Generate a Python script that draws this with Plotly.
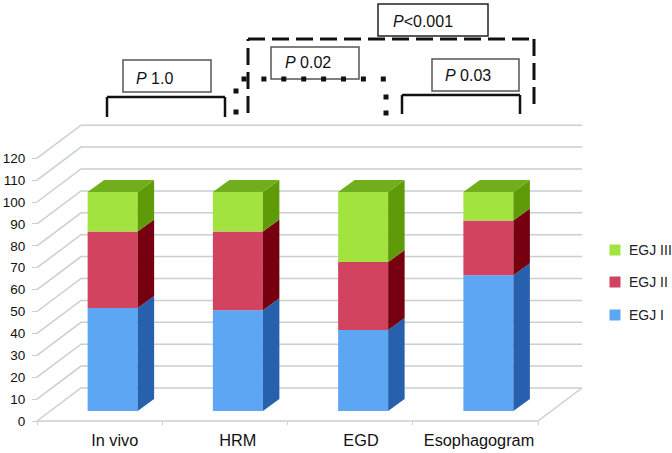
"""
EGJ grade share by method, drawn as an Excel style 3D stacked column chart
"""
import plotly.graph_objects as go

W, H = 672, 453

categories = ["In vivo", "HRM", "EGD", "Esophagogram"]
egj_1 = [47, 46, 37, 62]
egj_2 = [35, 36, 31, 25]
egj_3 = [18, 18, 32, 13]
y_ticks = list(range(0, 121, 10))

series = [
    ("EGJ I", egj_1, "#5CA6F4", "#2760AC", 315),
    ("EGJ II", egj_2, "#D2435F", "#76000F", 282),
    ("EGJ III", egj_3, "#A3E33F", "#5F9A08", 250),
]
top_color = "#71AE1E"
grid_color = "#C8D0D0"

# pixel layout of the fake 3D box
X0, CAT_W = 37, 125.25
Y0, UNIT = 421, 2.19
FONT = "Liberation Sans, Arial, sans-serif"


def val_x(px):
    return (px - X0) / CAT_W


def val_y(py):
    return (Y0 - py) / UNIT


wall_dx, wall_dy = 44 / CAT_W, 33 / UNIT
front_dx, front_dy = 13 / CAT_W, 10 / UNIT
side_dx, side_dy = 16.5 / CAT_W, 12 / UNIT
bar_w = 50 / CAT_W
label_px = [114.7, 237.7, 361, 479]


def line(x0, y0, x1, y1, color="#111111", width=2, dash=None):
    return dict(type="line", xref="paper", yref="paper", x0=x0 / W, x1=x1 / W,
                y0=1 - y0 / H, y1=1 - y1 / H, layer="above",
                line=dict(color=color, width=width, dash=dash))


def p_label(text, box, text_x, text_y, color):
    shapes.append(dict(type="rect", xref="paper", yref="paper", x0=box[0] / W, x1=box[2] / W,
                       y0=1 - box[1] / H, y1=1 - box[3] / H, layer="above",
                       line=dict(color=color, width=1.5)))
    annotations.append(dict(text=text, xref="paper", yref="paper", x=text_x / W, y=1 - text_y / H,
                            xanchor="left", yanchor="middle", showarrow=False,
                            font=dict(family=FONT, size=16, color="#111111")))


fig = go.Figure()
shapes = []
annotations = []

# walls: one line per tick, side wall then back wall
for v in y_ticks:
    shapes.append(dict(type="path", layer="below", line=dict(color=grid_color, width=1.5),
                       path=f"M 0 {v} L {wall_dx} {v + wall_dy} L {4 + wall_dx} {v + wall_dy}"))
shapes.append(dict(type="path", layer="below", line=dict(color=grid_color, width=1.5),
                   path=f"M 0 0 L 4 0 L {4 + wall_dx} {wall_dy}"))

# front faces, then the side and top faces from the same values
centers = [i + 0.5 + front_dx for i in range(len(categories))]
base = [front_dy] * len(categories)
for name, values, color, side_color, legend_y in series:
    fig.add_trace(go.Bar(x=centers, y=values, base=base, width=bar_w, name=name,
                         marker=dict(color=color, line=dict(width=0)), showlegend=False))
    for c, b, v in zip(centers, base, values):
        right = c + bar_w / 2
        fig.add_trace(go.Scatter(
            x=[right, right + side_dx, right + side_dx, right, right],
            y=[b, b + side_dy, b + v + side_dy, b + v, b],
            mode="lines", fill="toself", fillcolor=side_color, line=dict(width=0),
            hoverinfo="skip", showlegend=False))
    base = [b + v for b, v in zip(base, values)]

for c, t in zip(centers, base):
    left, right = c - bar_w / 2, c + bar_w / 2
    fig.add_trace(go.Scatter(
        x=[left, right, right + side_dx, left + side_dx, left],
        y=[t, t, t + side_dy, t + side_dy, t],
        mode="lines", fill="toself", fillcolor=top_color, line=dict(width=0),
        hoverinfo="skip", showlegend=False))

# legend on the right
for name, values, color, side_color, legend_y in series:
    fig.add_trace(go.Scatter(x=[val_x(615)], y=[val_y(legend_y)], mode="markers",
                             marker=dict(symbol="square", size=11, color=color),
                             hoverinfo="skip", showlegend=False))
    annotations.append(dict(text=name, x=val_x(626.5), y=val_y(legend_y), xanchor="left", yanchor="middle",
                            showarrow=False, font=dict(family=FONT, size=14, color="#222222")))

# P value boxes
p_label("<i>P</i> 1.0", (123, 60, 211, 92), 134, 78, "#555555")
p_label("<i>P</i> 0.02", (271, 47, 359, 79), 283, 62, "#555555")
p_label("<i>P</i> 0.03", (432, 59, 519, 91), 443, 76, "#555555")
p_label("<i>P</i>&lt;0.001", (378, 4, 488, 36), 391, 21, "#222222")

# brackets
for x0, x1, top, left_end, right_end, dash, lw in [
    (107, 225, 97, 117, 117, None, 2.5),
    (402, 520, 95, 114, 114, None, 2.5),
    (248, 534, 39, 113, 108, "17px,7px", 3),
]:
    shapes.append(line(x0, left_end, x0, top, width=lw, dash=dash))
    shapes.append(line(x0, top, x1, top, width=lw, dash=dash))
    shapes.append(line(x1, top, x1, right_end, width=lw, dash=dash))
shapes.append(line(241.5, 79, 386, 79, width=5, dash="5px,14.9px"))
shapes.append(line(236, 88.5, 236, 115, width=5, dash="5px,16px"))
shapes.append(line(386, 94.5, 386, 116, width=5, dash="5px,11px"))

fig.update_layout(
    width=W, height=H, margin=dict(l=0, r=0, t=0, b=0),
    paper_bgcolor="white", plot_bgcolor="white",
    barmode="overlay", showlegend=False,
    shapes=shapes, annotations=annotations,
    font=dict(family=FONT, color="#111111"),
    xaxis=dict(domain=[0, 1], range=[val_x(0), val_x(W)], anchor="free", position=(H - Y0) / H,
               tickmode="array", tickvals=[val_x(p) for p in label_px], ticktext=categories,
               ticks="", showgrid=False, zeroline=False, showline=False,
               ticklabelstandoff=8, tickfont=dict(size=16.3),
               minor=dict(tickmode="array", tickvals=[0, 1, 2, 3, 4], ticks="outside", ticklen=3,
                          tickcolor=grid_color, showgrid=False)),
    yaxis=dict(domain=[0, 1], range=[val_y(H), val_y(0)], anchor="free", position=X0 / W,
               tickmode="array", tickvals=y_ticks, ticks="outside", ticklen=5, tickcolor=grid_color,
               showgrid=False, zeroline=False, showline=False,
               ticklabelstandoff=4, tickfont=dict(size=13.5)),
)

fig.write_html("out.html", config=dict(displayModeBar=False),
               post_script="document.body.style.margin='0';document.body.style.overflow='hidden';")
